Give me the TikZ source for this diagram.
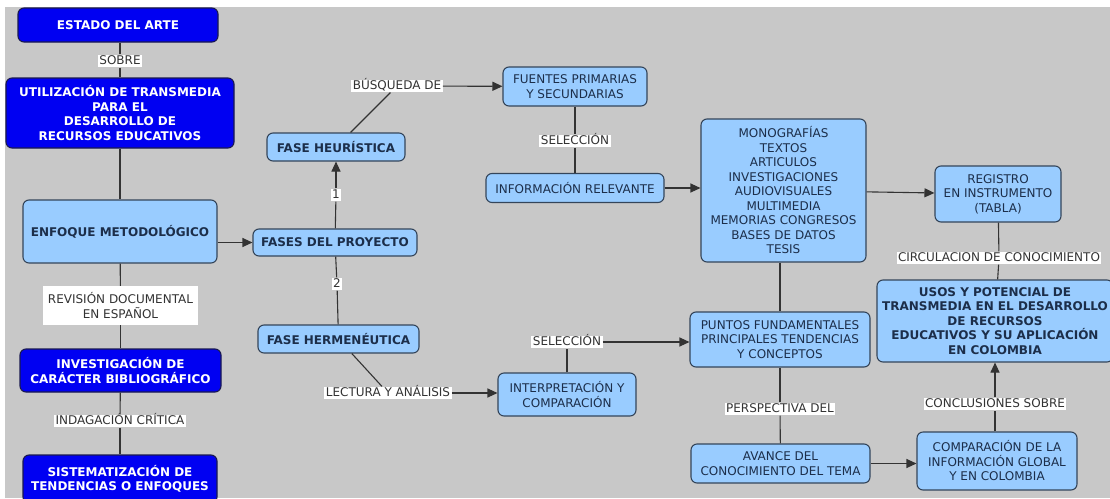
\documentclass[tikz,border=0pt]{standalone}
\usepackage{fontspec}
\setmainfont{DejaVu Sans}
\usetikzlibrary{arrows.meta}
\definecolor{bg}{HTML}{C8C8C8}
\definecolor{dblue}{HTML}{0000F2}
\definecolor{dedge}{HTML}{1A1A50}
\definecolor{lblue}{HTML}{99CCFF}
\definecolor{ledge}{HTML}{34455A}
\definecolor{ltxt}{HTML}{1C2E4A}
\definecolor{labtxt}{HTML}{333333}
\definecolor{linec}{HTML}{333333}
\newcommand{\mapfont}{\fontsize{12}{14.5}\selectfont}
\tikzset{
  box/.style={rounded corners=6pt, line width=1.1pt, align=center, inner sep=2pt, font=\mapfont},
  dbox/.style={box, fill=dblue, draw=dedge, text=white, font=\mapfont\bfseries},
  lbox/.style={box, fill=lblue, draw=ledge, text=ltxt},
  lboxb/.style={lbox, font=\mapfont\bfseries},
  lab/.style={fill=white, text=labtxt, inner xsep=1.5pt, inner ysep=0.5pt, text height=9.6pt, text depth=2.2pt, font=\mapfont},
  con/.style={draw=linec, line width=1.1pt},
  arr/.style={con, -{Triangle[length=10pt,width=9pt]}},
}
\begin{document}
\begin{tikzpicture}[x=1pt,y=-1pt]
\useasboundingbox (0,0) rectangle (1110,498);
\fill[white] (0,0) rectangle (1110,498);
\fill[bg] (5,7) rectangle (1110,498);
\clip (0,0) rectangle (1110,498);

% left column
\node[dbox, minimum width=200pt, minimum height=34pt] (estado) at (118,25) {ESTADO DEL ARTE};
\node[lab] (sobre) at (120,61) {SOBRE};
\node[dbox, minimum width=228pt, minimum height=70pt] (utiliz) at (120,113) {UTILIZACIÓN DE TRANSMEDIA\\PARA EL\\DESARROLLO DE\\RECURSOS EDUCATIVOS};
\node[lboxb, minimum width=194pt, minimum height=63pt] (enfoque) at (120,231.5) {ENFOQUE METODOLÓGICO};
\node[fill=white, text=labtxt, align=center, minimum width=155pt, minimum height=39pt, inner sep=0pt, font=\mapfont] (revision) at (120.5,305.5) {REVISIÓN DOCUMENTAL\\EN ESPAÑOL};
\node[dbox, minimum width=201pt, minimum height=43pt] (investig) at (120.5,370.5) {INVESTIGACIÓN DE\\CARÁCTER BIBLIOGRÁFICO};
\node[lab] (indag) at (120,421) {INDAGACIÓN CRÍTICA};
\node[dbox, minimum width=194pt, minimum height=48pt] (sistem) at (120,479) {SISTEMATIZACIÓN DE\\TENDENCIAS O ENFOQUES};

% phases
\node[lboxb, minimum width=164pt, minimum height=27pt] (fases) at (335,242.5) {FASES DEL PROYECTO};
\node[lboxb, minimum width=138pt, minimum height=28pt] (heur) at (336,147) {FASE HEURÍSTICA};
\node[lboxb, minimum width=161pt, minimum height=28pt] (herm) at (338.5,339) {FASE HERMENÉUTICA};
\node[lab] (lab1) at (336,195) {1};
\node[lab] (lab2) at (337,284) {2};
\node[lab] (busq) at (397,86) {BÚSQUEDA DE};
\node[lab] (lectura) at (388,393) {LECTURA Y ANÁLISIS};

% middle
\node[lbox, minimum width=144pt, minimum height=39pt] (fuentes) at (575,86.5) {FUENTES PRIMARIAS\\Y SECUNDARIAS};
\node[lab] (selec1) at (575,141) {SELECCIÓN};
\node[lbox, minimum width=178pt, minimum height=29pt] (info) at (575,188) {INFORMACIÓN RELEVANTE};
\node[lbox, minimum width=138pt, minimum height=43pt] (interp) at (567,394.5) {INTERPRETACIÓN Y\\COMPARACIÓN};
\node[lab] (selec2) at (567,342) {SELECCIÓN};

% right
\node[lbox, minimum width=165pt, minimum height=143pt] (big) at (783.5,190.5) {MONOGRAFÍAS\\TEXTOS\\ARTICULOS\\INVESTIGACIONES\\AUDIOVISUALES\\MULTIMEDIA\\MEMORIAS CONGRESOS\\BASES DE DATOS\\TESIS};
\node[lbox, minimum width=126pt, minimum height=56pt] (registro) at (998,194) {REGISTRO\\EN INSTRUMENTO\\(TABLA)};
\node[lab] (circ) at (999,258) {CIRCULACION DE CONOCIMIENTO};
\node[lboxb, minimum width=236pt, minimum height=82pt] (usos) at (995,321) {USOS Y POTENCIAL DE\\TRANSMEDIA EN EL DESARROLLO\\DE RECURSOS\\EDUCATIVOS Y SU APLICACIÓN\\EN COLOMBIA};
\node[lbox, minimum width=180pt, minimum height=55pt] (puntos) at (780,339.5) {PUNTOS FUNDAMENTALES\\PRINCIPALES TENDENCIAS\\Y CONCEPTOS};
\node[lab] (persp) at (780,409) {PERSPECTIVA DEL};
\node[lbox, minimum width=179pt, minimum height=39pt] (avance) at (780.5,463.5) {AVANCE DEL\\CONOCIMIENTO DEL TEMA};
\node[lbox, minimum width=160pt, minimum height=58pt] (comp) at (997,461) {COMPARACIÓN DE LA\\INFORMACIÓN GLOBAL\\Y EN COLOMBIA};
\node[lab] (concl) at (995,404) {CONCLUSIONES SOBRE};

% connectors
\draw[con] (sobre) -- (sobre |- estado.south);
\draw[con] (sobre) -- (utiliz);
\draw[con] (utiliz) -- (enfoque);
\draw[con] (enfoque) -- (revision);
\draw[con] (revision) -- (investig);
\draw[con] (investig) -- (indag);
\draw[con] (indag) -- (sistem);
\draw[arr] (enfoque.east |- fases) -- (fases.west);
\draw[con] (fases) -- (lab1);
\draw[arr] (lab1) -- (heur);
\draw[con] (fases) -- (lab2);
\draw[con] (lab2) -- (herm);
\draw[con] (heur) -- (busq);
\draw[arr] (busq) -- (fuentes);
\draw[con] (fuentes) -- (selec1);
\draw[con] (selec1) -- (info);
\draw[arr] (info) -- (big.west |- info);
\draw[arr] (big) -- (registro);
\draw[con] (registro) -- (circ);
\draw[con] (circ) -- (usos);
\draw[con] (big.south -| puntos) -- (puntos);
\draw[con] (herm) -- (lectura);
\draw[arr] (lectura) -- (lectura -| interp.west);
\draw[con] (interp) -- (selec2);
\draw[arr] (selec2) -- (selec2 -| puntos.west);
\draw[con] (puntos) -- (persp);
\draw[con] (persp) -- (avance);
\draw[arr] (avance) -- (avance -| comp.west);
\draw[con] (comp.north -| concl) -- (concl);
\draw[arr] (concl) -- (concl |- usos.south);
\end{tikzpicture}
\end{document}
